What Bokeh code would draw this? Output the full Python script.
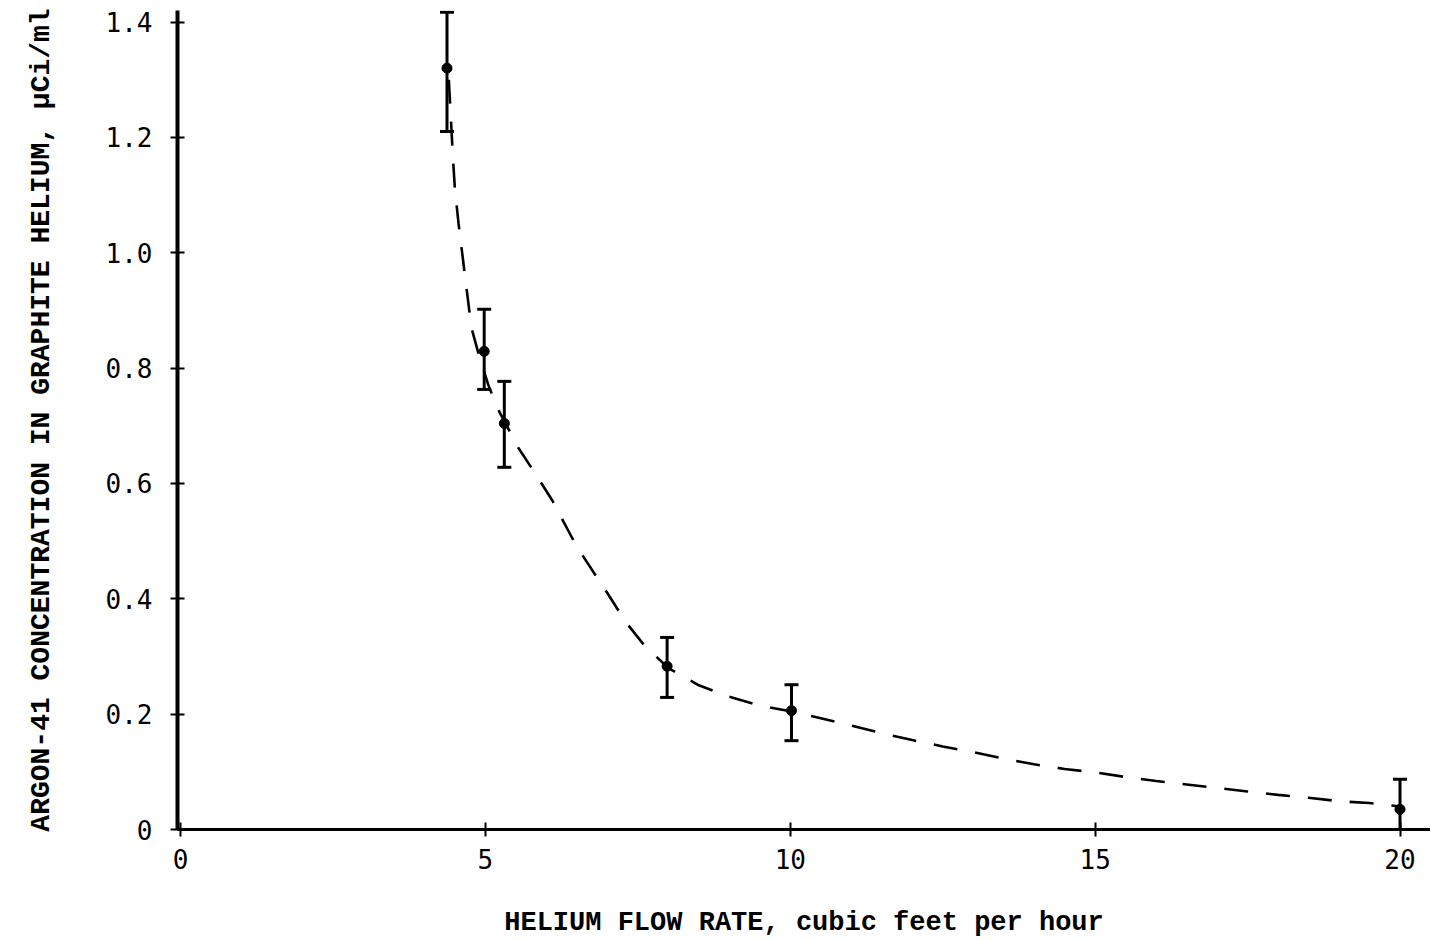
from bokeh.plotting import figure
from bokeh.models import Range1d, ColumnDataSource, Whisker, TeeHead, FixedTicker
from bokeh.embed import file_html
from bokeh.resources import INLINE

# measured points (flow rate, Ar-41 concentration) with error limits
flow = [4.37, 4.98, 5.31, 7.98, 10.02, 20.0]
conc = [1.32, 0.829, 0.704, 0.283, 0.206, 0.035]
err_upper = [1.417, 0.902, 0.777, 0.333, 0.251, 0.087]
err_lower = [1.21, 0.763, 0.628, 0.229, 0.154, -0.018]

# dashed trend curve as drawn
curve_x = [4.40, 4.44, 4.47, 4.50, 4.56, 4.63, 4.70, 4.77, 4.90, 5.05, 5.20, 5.35,
           5.55, 5.80, 6.10, 6.50, 7.00, 7.30, 7.60, 8.00, 8.50, 9.00, 9.50, 10.0,
           10.5, 11.0, 11.5, 12.0, 12.5, 13.0, 13.5, 14.0, 14.5, 15.0, 15.5, 16.0,
           16.5, 17.0, 17.5, 18.0, 18.5, 19.0, 19.5, 20.0]
curve_y = [1.30, 1.22, 1.16, 1.11, 1.05, 0.99, 0.93, 0.87, 0.82, 0.77, 0.73, 0.70,
           0.66, 0.62, 0.57, 0.49, 0.41, 0.36, 0.32, 0.28, 0.25, 0.23, 0.215, 0.205,
           0.193, 0.180, 0.167, 0.155, 0.144, 0.134, 0.123, 0.113, 0.105, 0.099, 0.091, 0.084,
           0.078, 0.072, 0.066, 0.060, 0.055, 0.049, 0.046, 0.040]

x_ticks = [0, 5, 10, 15, 20]
y_ticks = [0, 0.2, 0.4, 0.6, 0.8, 1.0, 1.2, 1.4]
y_tick_labels = {0: "0", 0.2: "0.2", 0.4: "0.4", 0.6: "0.6", 0.8: "0.8",
                 1.0: "1.0", 1.2: "1.2", 1.4: "1.4"}

x_title = "HELIUM FLOW RATE, cubic feet per hour"
y_title = "ARGON-41 CONCENTRATION IN GRAPHITE HELIUM, \u00b5Ci/ml"

p = figure(width=1430, height=940, output_backend="svg", toolbar_location=None,
           x_range=Range1d(-0.05, 20.5), y_range=Range1d(0, 1.42),
           min_border_left=177, min_border_right=0, min_border_top=10,
           min_border_bottom=111)
p.outline_line_color = None
p.grid.visible = False
p.background_fill_color = "white"
p.border_fill_color = "white"

p.line(curve_x, curve_y, line_dash="24 18", line_width=2.6, color="black")

src = ColumnDataSource(dict(x=flow, y=conc, upper=err_upper, lower=err_lower))
wh = Whisker(base="x", upper="upper", lower="lower", source=src,
             line_width=3, line_color="black",
             upper_head=TeeHead(size=14, line_width=3, line_color="black"),
             lower_head=TeeHead(size=14, line_width=3, line_color="black"))
p.add_layout(wh)
p.scatter("x", "y", source=src, size=10, color="black")

tick_font = "DejaVu Sans Mono"
title_font = "Liberation Mono"

xa = p.xaxis[0]
xa.ticker = FixedTicker(ticks=x_ticks)
xa.axis_line_width = 3
xa.major_tick_line_width = 2
xa.major_tick_in = 7
xa.major_tick_out = 7
xa.minor_tick_line_color = None
xa.major_label_standoff = 12
xa.major_label_text_font = tick_font
xa.major_label_text_font_size = "26px"
xa.major_label_text_color = "black"
xa.axis_label = x_title
xa.axis_label_text_font = title_font
xa.axis_label_text_font_size = "27px"
xa.axis_label_text_font_style = "bold"
xa.axis_label_text_color = "black"
xa.axis_label_standoff = 36

ya = p.yaxis[0]
ya.ticker = FixedTicker(ticks=y_ticks)
ya.major_label_overrides = y_tick_labels
ya.axis_line_width = 4
ya.major_tick_line_width = 2
ya.major_tick_in = 7
ya.major_tick_out = 7
ya.minor_tick_line_color = None
ya.major_label_standoff = 18
ya.major_label_text_font = tick_font
ya.major_label_text_font_size = "26px"
ya.major_label_text_color = "black"
ya.axis_label = y_title
ya.axis_label_text_font = title_font
ya.axis_label_text_font_size = "28px"
ya.axis_label_text_font_style = "bold"
ya.axis_label_text_color = "black"
ya.axis_label_standoff = 46

open("out.html", "w").write(file_html(p, INLINE))
